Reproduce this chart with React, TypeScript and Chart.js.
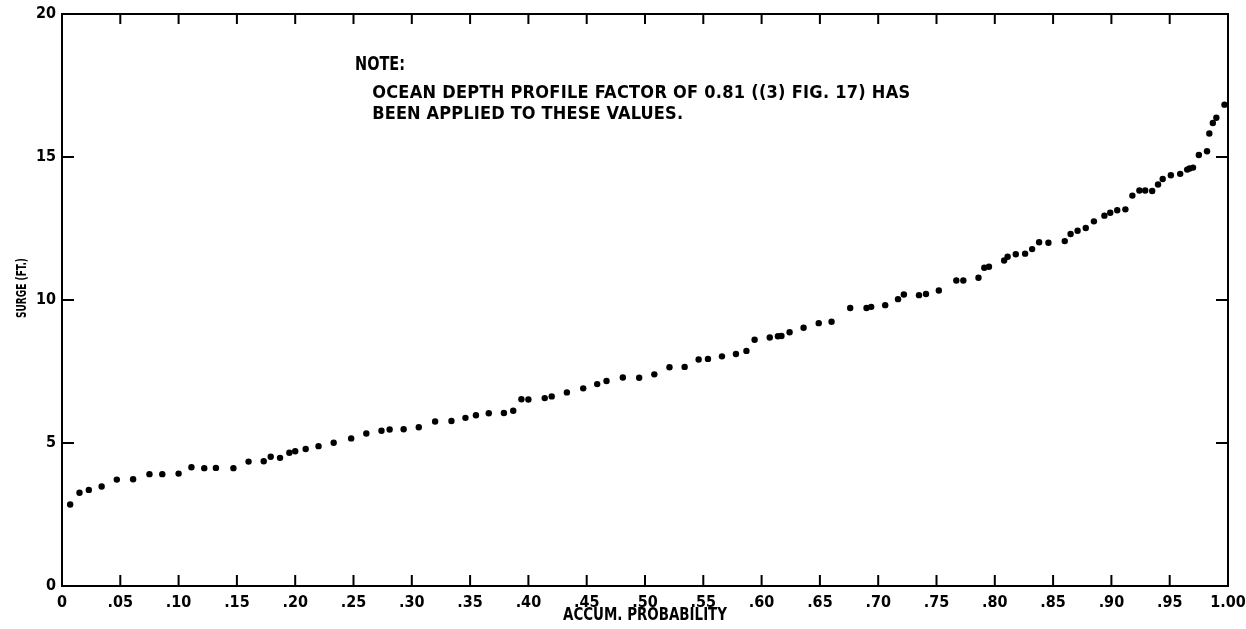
import React, { useEffect, useRef } from "react";
import { Chart, registerables } from "chart.js";

Chart.register(...registerables);

// ---- data ----
const probability = [
  0.007, 0.015, 0.023, 0.034, 0.047, 0.061, 0.075, 0.086, 0.1, 0.111,
  0.122, 0.132, 0.147, 0.16, 0.173, 0.179, 0.187, 0.195, 0.2, 0.209,
  0.22, 0.233, 0.248, 0.261, 0.274, 0.281, 0.293, 0.306, 0.32, 0.334,
  0.346, 0.355, 0.366, 0.379, 0.387, 0.394, 0.4, 0.414, 0.42, 0.433,
  0.447, 0.459, 0.467, 0.481, 0.495, 0.508, 0.521, 0.534, 0.546, 0.554,
  0.566, 0.578, 0.587, 0.594, 0.607, 0.614, 0.617, 0.624, 0.636, 0.649,
  0.66, 0.676, 0.69, 0.694, 0.706, 0.717, 0.722, 0.735, 0.741, 0.752,
  0.767, 0.773, 0.786, 0.791, 0.795, 0.808, 0.811, 0.818, 0.826, 0.832,
  0.838, 0.846, 0.86, 0.865, 0.871, 0.878, 0.885, 0.894, 0.899, 0.905,
  0.912, 0.918, 0.924, 0.929, 0.935, 0.94, 0.944, 0.951, 0.959, 0.965,
  0.967, 0.97, 0.975, 0.982, 0.984, 0.987, 0.99, 0.997,
];
const surge = [
  2.85, 3.26, 3.36, 3.48, 3.72, 3.73, 3.91, 3.91, 3.93, 4.15,
  4.12, 4.13, 4.12, 4.35, 4.36, 4.52, 4.48, 4.66, 4.71, 4.79,
  4.89, 5.01, 5.16, 5.33, 5.43, 5.47, 5.48, 5.55, 5.75, 5.77,
  5.88, 5.97, 6.04, 6.05, 6.13, 6.53, 6.52, 6.57, 6.63, 6.77,
  6.91, 7.06, 7.17, 7.29, 7.28, 7.4, 7.65, 7.66, 7.92, 7.94,
  8.03, 8.11, 8.22, 8.61, 8.69, 8.73, 8.74, 8.87, 9.03, 9.19,
  9.24, 9.72, 9.72, 9.76, 9.82, 10.03, 10.19, 10.17, 10.21, 10.33,
  10.68, 10.68, 10.78, 11.13, 11.16, 11.38, 11.51, 11.6, 11.62, 11.78,
  12.02, 12.0, 12.06, 12.31, 12.42, 12.52, 12.75, 12.95, 13.05, 13.14,
  13.17, 13.65, 13.83, 13.83, 13.81, 14.04, 14.23, 14.36, 14.41, 14.56,
  14.6, 14.63, 15.07, 15.2, 15.82, 16.19, 16.37, 16.83,
];
const xTickLabels = [
  "0", ".05", ".10", ".15", ".20", ".25", ".30", ".35", ".40", ".45", ".50",
  ".55", ".60", ".65", ".70", ".75", ".80", ".85", ".90", ".95", "1.00",
];
const yTickLabels = ["0", "5", "10", "15", "20"];
const xTitle = "ACCUM. PROBABILITY";
const yTitle = "SURGE (FT.)";
const noteTitle = "NOTE:";
const noteLines = [
  "OCEAN DEPTH PROFILE FACTOR OF 0.81 ((3) FIG. 17) HAS",
  "BEEN APPLIED TO THESE VALUES.",
];

const FONT = '"Liberation Sans Narrow", "DejaVu Sans Condensed", "Arial Narrow", sans-serif';

// draws text (left aligned) so that it spans the target width:
// condensed by horizontal scaling when too wide, letter-spaced when too narrow
function drawFit(ctx: CanvasRenderingContext2D, text: string, x: number, y: number, target: number) {
  const anyCtx = ctx as any;
  if ("letterSpacing" in anyCtx) anyCtx.letterSpacing = "0px";
  const w = ctx.measureText(text).width;
  const n = text.length;
  if (w < target && "letterSpacing" in anyCtx && n > 1) {
    anyCtx.letterSpacing = ((target - w) / (n - 1)).toFixed(2) + "px";
    ctx.fillText(text, x, y);
    anyCtx.letterSpacing = "0px";
  } else {
    ctx.save();
    ctx.translate(x, y);
    ctx.scale(target / w, 1);
    ctx.fillText(text, 0, 0);
    ctx.restore();
  }
}

const framePlugin = {
  id: "frame",
  afterDraw(chart: any) {
    const { ctx, chartArea, scales } = chart;
    const { left, right, top, bottom } = chartArea;
    const xs = scales.x;
    const ys = scales.y;
    ctx.save();
    ctx.strokeStyle = "#000";
    ctx.lineWidth = 2;
    ctx.strokeRect(left, top, right - left, bottom - top);
    ctx.beginPath();
    xs.ticks.forEach((t: any) => {
      const px = xs.getPixelForValue(t.value);
      if (px <= left + 1 || px >= right - 1) return;
      ctx.moveTo(px, bottom);
      ctx.lineTo(px, bottom - 11);
      ctx.moveTo(px, top);
      ctx.lineTo(px, top + 10);
    });
    ys.ticks.forEach((t: any) => {
      const py = ys.getPixelForValue(t.value);
      if (py >= bottom - 1 || py <= top + 1) return;
      ctx.moveTo(left, py);
      ctx.lineTo(left + 12, py);
      ctx.moveTo(right, py);
      ctx.lineTo(right - 12, py);
    });
    ctx.stroke();

    // note text
    ctx.fillStyle = "#000";
    ctx.textBaseline = "middle";
    ctx.textAlign = "left";
    ctx.font = "bold 19px " + FONT;
    drawFit(ctx, noteTitle, xs.getPixelForValue(0.2513), ys.getPixelForValue(18.2), 50);
    ctx.font = "bold 18px " + FONT;
    drawFit(ctx, noteLines[0], xs.getPixelForValue(0.266), ys.getPixelForValue(17.22), 538);
    drawFit(ctx, noteLines[1], xs.getPixelForValue(0.266), ys.getPixelForValue(16.5), 311);

    // y axis title
    ctx.save();
    ctx.translate(22, (top + bottom) / 2 - 12);
    ctx.rotate(-Math.PI / 2);
    ctx.font = "bold 14px " + FONT;
    drawFit(ctx, yTitle, -30, 0, 60);
    ctx.restore();

    // x axis title
    ctx.font = "bold 17px " + FONT;
    drawFit(ctx, xTitle, (left + right) / 2 - 82, 616, 164);
    ctx.restore();
  },
};

export default function App() {
  const ref = useRef<HTMLCanvasElement | null>(null);
  useEffect(() => {
    document.body.style.margin = "0";
    const canvas = ref.current;
    if (!canvas) return;
    const chart = new Chart(canvas, {
      type: "scatter",
      data: {
        datasets: [
          {
            label: "Surge",
            data: probability.map((p, i) => ({ x: p, y: surge[i] })),
            backgroundColor: "#000",
            borderColor: "#000",
            pointRadius: 3.2,
            pointHoverRadius: 3.2,
            borderWidth: 0,
          },
        ],
      },
      options: {
        responsive: false,
        animation: false,
        events: [],
        layout: { padding: { left: 0, top: 14, right: 18, bottom: 0 } },
        plugins: {
          legend: { display: false },
          tooltip: { enabled: false },
          title: { display: false },
        },
        scales: {
          x: {
            type: "linear",
            min: 0,
            max: 1,
            grid: { display: false, drawTicks: false },
            border: { display: false },
            ticks: {
              stepSize: 0.05,
              autoSkip: false,
              maxRotation: 0,
              padding: 7,
              color: "#000",
              font: { family: FONT, size: 16, weight: "bold" },
              callback: (_v: any, i: number) => xTickLabels[i],
            },
            afterFit: (s: any) => {
              s.height = 43;
              s.paddingLeft = 0;
              s.paddingRight = 0;
            },
          },
          y: {
            type: "linear",
            min: 0,
            max: 20,
            grid: { display: false, drawTicks: false },
            border: { display: false },
            ticks: {
              stepSize: 5,
              padding: 6,
              color: "#000",
              font: { family: FONT, size: 16, weight: "bold" },
              callback: (_v: any, i: number) => yTickLabels[i],
            },
            afterFit: (s: any) => {
              s.width = 62;
              s.paddingTop = 0;
              s.paddingBottom = 0;
            },
          },
        },
      },
      plugins: [framePlugin],
    });
    return () => chart.destroy();
  }, []);
  return (
    <div style={{ width: 1246, height: 629, background: "#fff" }}>
      <canvas ref={ref} width={1246} height={629} style={{ display: "block" }} />
    </div>
  );
}
